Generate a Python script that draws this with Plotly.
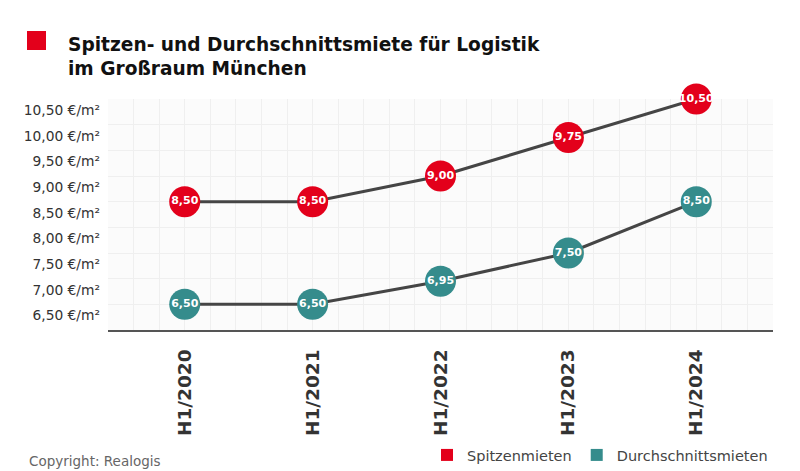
import plotly.graph_objects as go

categories = ["H1/2020", "H1/2021", "H1/2022", "H1/2023", "H1/2024"]
spitzen = [8.50, 8.50, 9.00, 9.75, 10.50]
durchschnitt = [6.50, 6.50, 6.95, 7.50, 8.50]
y_ticks = [6.5, 7.0, 7.5, 8.0, 8.5, 9.0, 9.5, 10.0, 10.5]

RED = "#E3001B"
TEAL = "#358C8C"
LINE = "#454545"
FONT = "DejaVu Sans"

W, H = 800, 471
L, R, T, B = 108, 27, 99, 141
PW, PH = W - L - R, H - T - B

def px_x(x):
    return (x - L) / PW

def px_y(y):
    return (H - B - y) / PH

def fmt(v):
    return f"{v:.2f}".replace(".", ",")

xs = list(range(len(categories)))

fig = go.Figure()
for vals, col, name in [(spitzen, RED, "Spitzenmieten"), (durchschnitt, TEAL, "Durchschnittsmieten")]:
    fig.add_trace(go.Scatter(
        x=xs, y=vals, mode="lines+markers+text",
        line=dict(color=LINE, width=3),
        marker=dict(size=31, color=col, line=dict(width=0)),
        text=[fmt(v) for v in vals], textposition="middle center",
        textfont=dict(family=FONT, size=11, color="white", weight="bold"),
        showlegend=False, hoverinfo="skip", cliponaxis=False,
    ))
    fig.add_trace(go.Scatter(
        x=[None], y=[None], mode="markers", name=name,
        marker=dict(symbol="square", size=12, color=col),
    ))

fig.update_layout(
    width=W, height=H,
    margin=dict(l=L, r=R, t=T, b=B, autoexpand=False),
    paper_bgcolor="white", plot_bgcolor="#fbfbfb",
    font=dict(family=FONT, color="#333"),
    title=dict(
        text="Spitzen- und Durchschnittsmiete für Logistik<br>im Großraum München",
        xref="container", yref="container", x=68 / W, xanchor="left",
        y=1 - 51 / H, yanchor="top",
        font=dict(family=FONT, size=18.6, color="#111", weight="bold"),
    ),
    legend=dict(
        orientation="h", x=1.0, xanchor="right", y=px_y(455), yanchor="middle",
        font=dict(family=FONT, size=14.5, color="#444"),
        itemwidth=30, tracegroupgap=0,
    ),
    shapes=[dict(type="rect", xref="paper", yref="paper",
                 x0=px_x(27), x1=px_x(46), y0=px_y(50), y1=px_y(31),
                 fillcolor=RED, line=dict(width=0))],
    annotations=[dict(text="Copyright: Realogis", xref="paper", yref="paper",
                      x=px_x(27), xanchor="left", y=px_y(461), yanchor="middle",
                      showarrow=False,
                      font=dict(family=FONT, size=13.5, color="#666"))],
)

fig.update_xaxes(
    range=[-0.6, len(categories) - 1 + 0.6],
    tickvals=xs, ticktext=categories, tickangle=-90,
    tickfont=dict(family=FONT, size=18.5, color="#333", weight="bold"),
    ticklabelstandoff=10,
    showgrid=True, gridcolor="#efefef", gridwidth=1,
    minor=dict(dtick=0.2, tick0=0, showgrid=True, gridcolor="#efefef", gridwidth=1),
    showline=True, linecolor="#555", linewidth=2,
    zeroline=False, ticks="", fixedrange=True,
)
fig.update_yaxes(
    range=[6.0, 10.5],
    tickvals=y_ticks, ticktext=[fmt(v) + " €/m²" for v in y_ticks],
    tickfont=dict(family=FONT, size=13.8, color="#333"),
    ticklabelshift=11, ticklabelstandoff=7,
    showgrid=True, gridcolor="#efefef", gridwidth=1,
    zeroline=False, showline=False, ticks="", fixedrange=True,
)

fig.write_html("out.html", config={"displayModeBar": False},
               post_script="document.body.style.margin='0';")
